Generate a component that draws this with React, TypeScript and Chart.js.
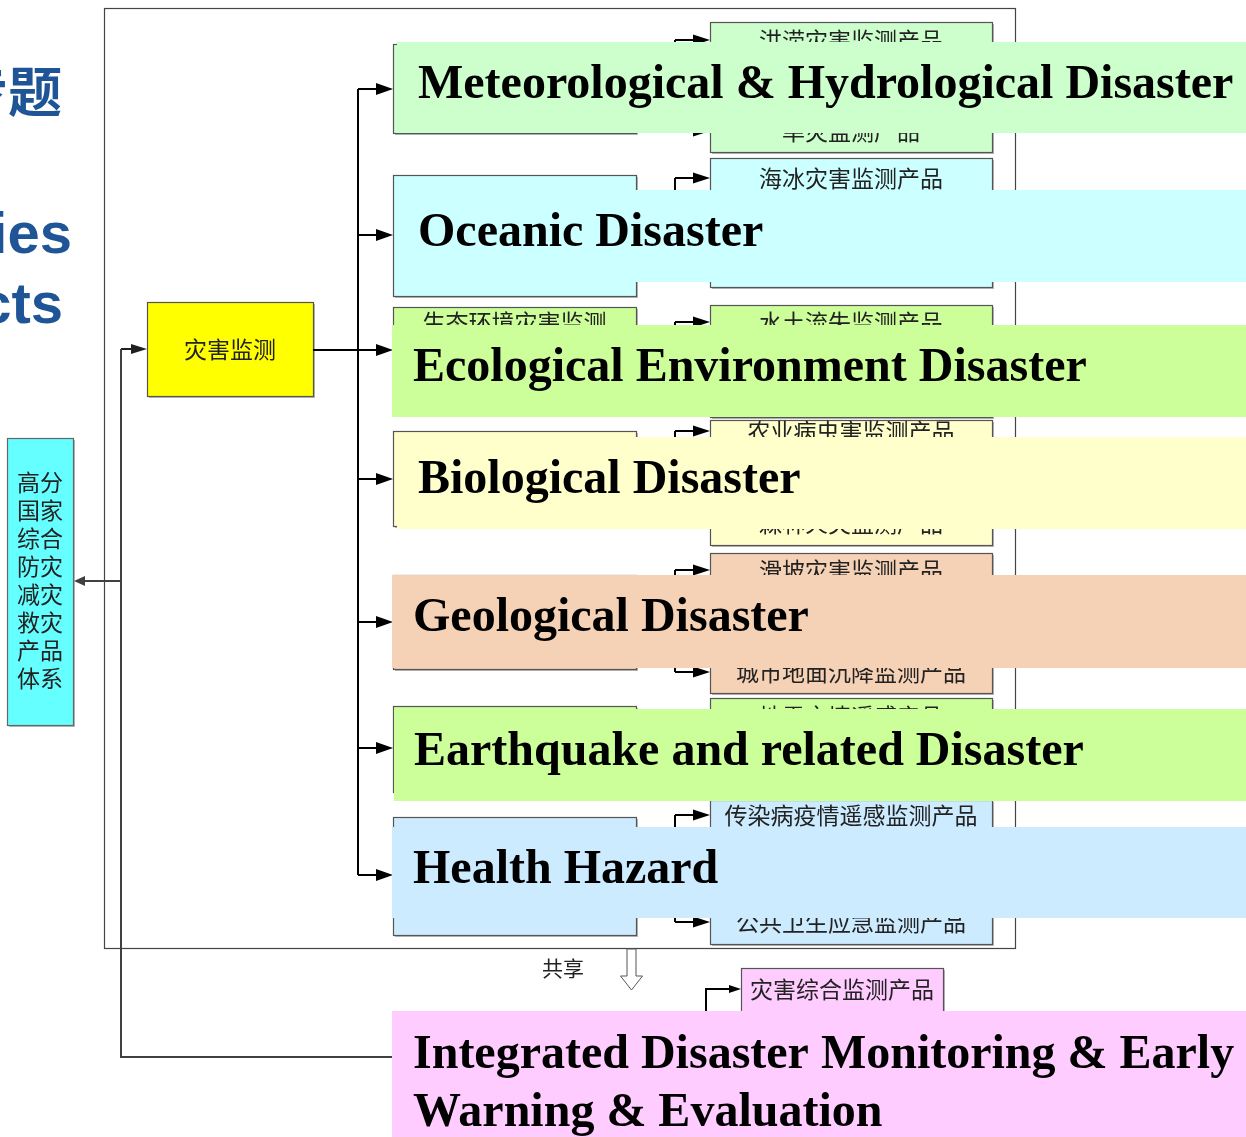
import React, { useEffect, useRef } from "react";
import { Chart, registerables } from "chart.js";

Chart.register(...registerables);

// ---------------- canvas / diagram space ----------------
const W = 1246;
const H = 1137;

// ---------------- texts ----------------
const SIDE_TITLES = ["专题", "Categories", "Products"];
const HUB_LABEL = "灾害监测";
const SYSTEM_LABEL = ["高分", "国家", "综合", "防灾", "减灾", "救灾", "产品", "体系"];
const SHARE_LABEL = "共享";
const INTEGRATED_PRODUCT = "灾害综合监测产品";
const INTEGRATED_TITLE = ["Integrated Disaster Monitoring & Early", "Warning & Evaluation"];

const CATEGORY_TITLES = [
  "Meteorological & Hydrological Disaster",
  "Oceanic Disaster",
  "Ecological Environment Disaster",
  "Biological Disaster",
  "Geological Disaster",
  "Earthquake and related Disaster",
  "Health Hazard",
];

const GROUP_LABELS = [
  ["气象水文灾害监测"],
  ["海洋灾害监测"],
  ["生态环境灾害监测", "产品"],
  ["生物灾害监测"],
  ["地质灾害监测"],
  ["地震灾害监测"],
  ["卫生健康灾害监测"],
];

const PRODUCTS = [
  ["洪涝灾害监测产品", "台风灾害监测产品", "雪灾监测产品", "旱灾监测产品"],
  ["海冰灾害监测产品", "风暴潮灾害监测产品", "海浪灾害监测产品", "赤潮灾害监测产品"],
  ["水土流失监测产品", "荒漠化监测产品", "湿地退化监测产品"],
  ["农业病虫害监测产品", "草原虫鼠害监测产品", "森林火灾监测产品"],
  ["滑坡灾害监测产品", "泥石流灾害监测产品", "城市地面沉降监测产品"],
  ["地震灾情遥感产品", "地震次生灾害监测产品", "地震灾害损失评估产品"],
  ["传染病疫情遥感监测产品", "环境污染健康风险监测产品", "公共卫生应急监测产品"],
];

// ---------------- positions (diagram units) ----------------
const SIDE_TITLE_X = [62, 72, 63];
const SIDE_TITLE_Y = [91, 253, 323];

const FRAME = [104, 8, 1015, 948];
const HUB_BOX = [147, 302, 313, 396];
const SYSTEM_BOX = [7, 438, 73, 725];
const SYSTEM_LINE_Y0 = 482;
const SYSTEM_LINE_STEP = 28;

const BUS_X = 358;
const BUS_Y = [89, 235, 350, 479, 622, 748, 875];
const LEFT_BUS_X = 121;
const HUB_Y = 349;
const SYSTEM_ARROW_Y = 581;
const BOTTOM_LINK_Y = 1057;

const GROUP_X = [393, 636];
const GROUP_TOP = [44, 175, 307, 431, 575, 706, 817];
const GROUP_BOTTOM = [133, 296, 395, 526, 669, 792, 935];
const GROUP_LABEL_Y = [88, 236, 322, 479, 622, 750, 876];

const BRACKET_X = 675;
const PRODUCT_X = [710, 992];
const PRODUCT_TOP = [22, 158, 305, 420, 553, 698, 800];
const PRODUCT_BOTTOM = [152, 287, 417, 545, 693, 795, 944];
const PRODUCT_Y = [
  [40, 71, 101, 131],
  [178, 208, 238, 268],
  [322, 355, 388],
  [431, 478, 523],
  [570, 621, 672],
  [716, 750, 784],
  [815, 868, 922],
];

const BAND_LEFT = [397, 395, 392, 397, 392, 394, 392];
const BAND_TOP = [42, 190, 325, 437, 575, 709, 827];
const BAND_BOTTOM = [133, 282, 417, 529, 668, 801, 918];
const TITLE_X = [418, 418, 413, 418, 413, 414, 413];

const INTEGRATED_BAND = [392, 1011, 1246, 1137];
const INTEGRATED_TITLE_X = 413;
const INTEGRATED_TITLE_Y = [1068, 1126];

const MERGE_BOX = [741, 968, 943, 1012];
const MERGE_LINK_X = 706;
const MERGE_Y = 989;

const SHARE_POS = [563, 968];
const SHARE_ARROW = { x: 631.5, top: 949, neck: 976, tip: 990, shaft: 4.5, head: 11 };

// ---------------- styles ----------------
const CATEGORY_FILLS = ["#CCFFCC", "#CCFFFF", "#CCFF99", "#FFFFCC", "#F5D1B5", "#CCFF99", "#CCEBFF"];
const INTEGRATED_FILL = "#FFCCFF";
const HUB_FILL = "#FFFF00";
const SYSTEM_FILL = "#66FFFF";
const SIDE_COLOR = "#1F5496";
const CJK = "'Noto Sans CJK SC', sans-serif";
const SERIF = "'Liberation Serif', 'Times New Roman', serif";
const SANS = "'Liberation Sans', Arial, sans-serif";
const SMALL = `23px ${CJK}`;

type Pt = [number, number];

function lineSet(points: Pt[], color: string, width: number) {
  return {
    data: points.map(([x, y]) => ({ x, y })),
    showLine: true,
    borderColor: color,
    backgroundColor: color,
    borderWidth: width,
    pointRadius: 0,
    pointHoverRadius: 0,
    fill: false,
    tension: 0,
    clip: false as any,
  };
}

function buildDatasets() {
  const ds: any[] = [];
  // left side links
  ds.push(lineSet([[LEFT_BUS_X, HUB_Y], [LEFT_BUS_X, BOTTOM_LINK_Y], [INTEGRATED_BAND[0], BOTTOM_LINK_Y]], "#404040", 2));
  ds.push(lineSet([[LEFT_BUS_X, HUB_Y], [HUB_BOX[0] - 4, HUB_Y]], "#202020", 2));
  ds.push(lineSet([[LEFT_BUS_X, SYSTEM_ARROW_Y], [SYSTEM_BOX[2] + 4, SYSTEM_ARROW_Y]], "#404040", 2));
  // hub -> bus
  ds.push(lineSet([[HUB_BOX[2], BUS_Y[2]], [BUS_X, BUS_Y[2]]], "#000", 2));
  ds.push(lineSet([[BUS_X, BUS_Y[0]], [BUS_X, BUS_Y[BUS_Y.length - 1]]], "#000", 2));
  BUS_Y.forEach((y) => ds.push(lineSet([[BUS_X, y], [GROUP_X[0] - 6, y]], "#000", 2)));
  // group -> product brackets
  PRODUCT_Y.forEach((ys, i) => {
    ds.push(lineSet([[GROUP_X[1], BUS_Y[i]], [BRACKET_X, BUS_Y[i]]], "#000", 2));
    ds.push(lineSet([[BRACKET_X, ys[0]], [BRACKET_X, ys[ys.length - 1]]], "#000", 2));
    ys.forEach((y) => ds.push(lineSet([[BRACKET_X, y], [PRODUCT_X[0] - 6, y]], "#000", 2)));
  });
  // integrated -> merged product
  ds.push(lineSet([[MERGE_LINK_X, 1040], [MERGE_LINK_X, MERGE_Y], [MERGE_BOX[0] - 4, MERGE_Y]], "#000", 2));
  return ds;
}

const ARROWS: { x: number; y: number; dir: number; len: number; half: number; color: string }[] = [
  { x: HUB_BOX[0], y: HUB_Y, dir: 1, len: 16, half: 5, color: "#202020" },
  { x: SYSTEM_BOX[2] + 1, y: SYSTEM_ARROW_Y, dir: -1, len: 11, half: 5, color: "#404040" },
  ...BUS_Y.map((y) => ({ x: GROUP_X[0], y, dir: 1, len: 17, half: 6, color: "#000" })),
  ...PRODUCT_Y.flatMap((ys) => ys.map((y) => ({ x: PRODUCT_X[0], y, dir: 1, len: 17, half: 5.5, color: "#000" }))),
  { x: MERGE_BOX[0], y: MERGE_Y, dir: 1, len: 12, half: 4, color: "#000" },
];

function makePlugin() {
  return {
    id: "diagram",
    beforeDatasetsDraw(chart: any) {
      const ctx: CanvasRenderingContext2D = chart.ctx;
      const sx = (v: number) => chart.scales.x.getPixelForValue(v);
      const sy = (v: number) => chart.scales.y.getPixelForValue(v);
      const rect = (b: number[], fill: string | null, stroke: string | null, shadow = false) => {
        const x0 = sx(b[0]), y0 = sy(b[1]), x1 = sx(b[2]), y1 = sy(b[3]);
        if (shadow) {
          ctx.fillStyle = "rgba(0,0,0,0.28)";
          ctx.fillRect(x0 + 2, y0 + 2, x1 - x0, y1 - y0);
        }
        if (fill) {
          ctx.fillStyle = fill;
          ctx.fillRect(x0, y0, x1 - x0, y1 - y0);
        }
        if (stroke) {
          ctx.strokeStyle = stroke;
          ctx.lineWidth = 1.2;
          ctx.strokeRect(Math.round(x0) + 0.5, Math.round(y0) + 0.5, Math.round(x1 - x0), Math.round(y1 - y0));
        }
      };
      const text = (s: string, x: number, y: number, font: string, color: string, align: CanvasTextAlign = "center", base: CanvasTextBaseline = "middle") => {
        ctx.font = font;
        ctx.fillStyle = color;
        ctx.textAlign = align;
        ctx.textBaseline = base;
        ctx.fillText(s, sx(x), sy(y));
      };
      ctx.save();
      // side titles (cut by the left edge)
      text(SIDE_TITLES[0], SIDE_TITLE_X[0], SIDE_TITLE_Y[0], `bold 54px ${CJK}`, SIDE_COLOR, "right", "middle");
      text(SIDE_TITLES[1], SIDE_TITLE_X[1], SIDE_TITLE_Y[1], `bold 58px ${SANS}`, SIDE_COLOR, "right", "alphabetic");
      text(SIDE_TITLES[2], SIDE_TITLE_X[2], SIDE_TITLE_Y[2], `bold 58px ${SANS}`, SIDE_COLOR, "right", "alphabetic");

      // frame
      rect(FRAME, null, "#444");

      // hub and system boxes
      rect(HUB_BOX, HUB_FILL, "#555", true);
      text(HUB_LABEL, (HUB_BOX[0] + HUB_BOX[2]) / 2, HUB_Y, SMALL, "#222");
      rect(SYSTEM_BOX, SYSTEM_FILL, "#666", true);
      SYSTEM_LABEL.forEach((s, k) =>
        text(s, (SYSTEM_BOX[0] + SYSTEM_BOX[2]) / 2, SYSTEM_LINE_Y0 + k * SYSTEM_LINE_STEP, SMALL, "#222")
      );

      // group boxes
      GROUP_LABELS.forEach((lines, i) => {
        rect([GROUP_X[0], GROUP_TOP[i], GROUP_X[1], GROUP_BOTTOM[i]], CATEGORY_FILLS[i], "#555", true);
        lines.forEach((s, k) => text(s, (GROUP_X[0] + GROUP_X[1]) / 2, GROUP_LABEL_Y[i] + k * 28, SMALL, "#222"));
      });
      // product boxes
      PRODUCTS.forEach((list, i) => {
        rect([PRODUCT_X[0], PRODUCT_TOP[i], PRODUCT_X[1], PRODUCT_BOTTOM[i]], CATEGORY_FILLS[i], "#555", true);
        list.forEach((s, k) => text(s, (PRODUCT_X[0] + PRODUCT_X[1]) / 2, PRODUCT_Y[i][k], SMALL, "#222"));
      });

      // merged product box
      rect(MERGE_BOX, INTEGRATED_FILL, "#555", true);
      text(INTEGRATED_PRODUCT, (MERGE_BOX[0] + MERGE_BOX[2]) / 2, MERGE_Y, SMALL, "#222");

      // share label and hollow arrow
      text(SHARE_LABEL, SHARE_POS[0], SHARE_POS[1], `21px ${CJK}`, "#222");
      const a = SHARE_ARROW;
      ctx.beginPath();
      ctx.moveTo(sx(a.x - a.shaft), sy(a.top));
      ctx.lineTo(sx(a.x + a.shaft), sy(a.top));
      ctx.lineTo(sx(a.x + a.shaft), sy(a.neck));
      ctx.lineTo(sx(a.x + a.head), sy(a.neck));
      ctx.lineTo(sx(a.x), sy(a.tip));
      ctx.lineTo(sx(a.x - a.head), sy(a.neck));
      ctx.lineTo(sx(a.x - a.shaft), sy(a.neck));
      ctx.closePath();
      ctx.fillStyle = "#fff";
      ctx.fill();
      ctx.strokeStyle = "#555";
      ctx.lineWidth = 1;
      ctx.stroke();
      ctx.restore();
    },
    afterDatasetsDraw(chart: any) {
      const ctx: CanvasRenderingContext2D = chart.ctx;
      const sx = (v: number) => chart.scales.x.getPixelForValue(v);
      const sy = (v: number) => chart.scales.y.getPixelForValue(v);
      ctx.save();
      // arrow heads
      ARROWS.forEach((r) => {
        const tx = sx(r.x), ty = sy(r.y);
        ctx.beginPath();
        ctx.moveTo(tx, ty);
        ctx.lineTo(tx - r.dir * r.len, ty - r.half);
        ctx.lineTo(tx - r.dir * r.len, ty + r.half);
        ctx.closePath();
        ctx.fillStyle = r.color;
        ctx.fill();
      });
      // big category bands on top
      CATEGORY_TITLES.forEach((t, i) => {
        const x0 = sx(BAND_LEFT[i]), y0 = sy(BAND_TOP[i]), x1 = sx(W), y1 = sy(BAND_BOTTOM[i]);
        ctx.fillStyle = CATEGORY_FILLS[i];
        ctx.fillRect(x0, y0, x1 - x0, y1 - y0);
        ctx.font = `bold 48px ${SERIF}`;
        ctx.fillStyle = "#000";
        ctx.textAlign = "left";
        ctx.textBaseline = "alphabetic";
        ctx.fillText(t, sx(TITLE_X[i]), sy(BAND_TOP[i] + 56));
      });
      const b = INTEGRATED_BAND;
      ctx.fillStyle = INTEGRATED_FILL;
      ctx.fillRect(sx(b[0]), sy(b[1]), sx(b[2]) - sx(b[0]), sy(b[3]) - sy(b[1]));
      ctx.font = `bold 48px ${SERIF}`;
      ctx.fillStyle = "#000";
      ctx.textAlign = "left";
      ctx.textBaseline = "alphabetic";
      INTEGRATED_TITLE.forEach((t, k) => ctx.fillText(t, sx(INTEGRATED_TITLE_X), sy(INTEGRATED_TITLE_Y[k])));
      ctx.restore();
    },
  };
}

export default function App() {
  const ref = useRef<HTMLCanvasElement | null>(null);
  useEffect(() => {
    const canvas = ref.current;
    if (!canvas) return;
    const chart = new Chart(canvas, {
      type: "scatter",
      data: { datasets: buildDatasets() },
      options: {
        animation: false,
        responsive: false,
        maintainAspectRatio: false,
        devicePixelRatio: 1,
        layout: { padding: 0 },
        events: [],
        plugins: { legend: { display: false }, tooltip: { enabled: false }, title: { display: false } },
        scales: {
          x: { type: "linear", min: 0, max: W, display: false },
          y: { type: "linear", min: 0, max: H, reverse: true, display: false },
        },
      },
      plugins: [makePlugin()],
    } as any);
    return () => chart.destroy();
  }, []);
  return (
    <div style={{ position: "fixed", left: 0, top: 0, width: W, height: H, background: "#fff" }}>
      <canvas ref={ref} width={W} height={H} style={{ display: "block", width: W, height: H }} />
    </div>
  );
}
